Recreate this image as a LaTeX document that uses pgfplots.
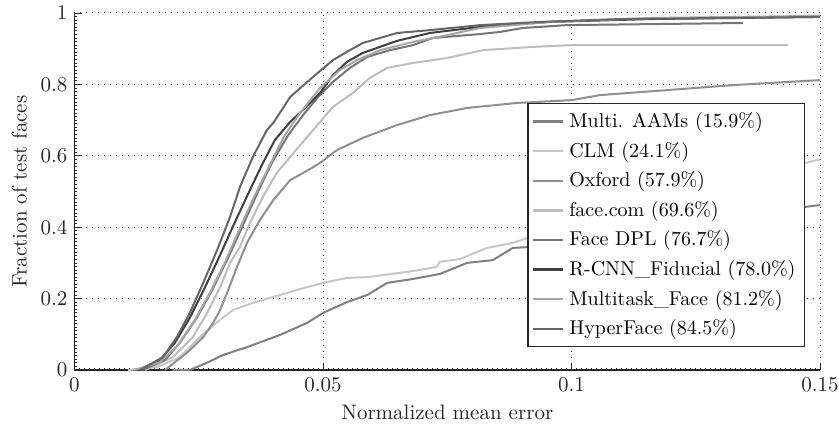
\documentclass[border=0pt]{standalone}
\usepackage{pgfplots}
\pgfplotsset{compat=1.18}
\definecolor{cAAM}{gray}{0.50}
\definecolor{cCLM}{gray}{0.78}
\definecolor{cOX}{gray}{0.56}
\definecolor{cFC}{gray}{0.74}
\definecolor{cDPL}{gray}{0.46}
\definecolor{cRCNN}{gray}{0.25}
\definecolor{cMT}{gray}{0.65}
\definecolor{cHF}{gray}{0.40}
\begin{document}
\begin{tikzpicture}
\begin{axis}[
  name=ax,
  scale only axis, width=372.75pt, height=178.5pt,
  xmin=0, xmax=0.15, ymin=0, ymax=1,
  axis x line*=bottom, axis y line*=left,
  axis line style={-, black!85, line width=0.6pt},
  xtick={0,0.05,0.1,0.15}, xticklabels={0,0.05,0.1,0.15},
  ytick={0,0.2,0.4,0.6,0.8,1}, yticklabels={0,0.2,0.4,0.6,0.8,1},
  minor x tick num=49, minor y tick num=19,
  tick align=inside, major tick length=3.5pt, minor tick length=1.2pt,
  tick style={black!85, line width=0.4pt},
  grid=major, major grid style={black!80, dash pattern=on 0.5pt off 2.5pt, line width=0.5pt},
  xlabel={Normalized mean error}, ylabel={Fraction of test faces},
  tick label style={font=\fontsize{10.5}{12}\selectfont, text=black!85},
  label style={font=\fontsize{10.5}{12}\selectfont, text=black!85},
  legend style={at={(0.98,0.748)}, anchor=north east, draw=black!85, line width=0.6pt,
    fill=white, font=\fontsize{10}{12}\selectfont, row sep=1.8pt, inner xsep=2pt, inner ysep=2.5pt,
    nodes={inner xsep=2.5pt}},
  legend cell align=left,
  legend image code/.code={\draw[#1, line width=1.2pt] (0pt,0pt) -- (15pt,0pt);},
  every axis plot/.append style={line width=1pt, line join=round},
]
% Multi. AAMs
\addplot[cAAM] coordinates {(0.0198,0) (0.0232,0) (0.0266,0.02) (0.0299,0.042) (0.0347,0.064) (0.0413,0.098) (0.0468,0.132) (0.050,0.160) (0.0548,0.19) (0.0589,0.21) (0.0629,0.244) (0.0681,0.255) (0.0735,0.269) (0.079,0.30) (0.0842,0.308) (0.0882,0.342) (0.0922,0.345) (0.10,0.365) (0.11,0.385) (0.12,0.405) (0.13,0.425) (0.14,0.445) (0.15,0.462)};
\addlegendentry{Multi. AAMs (15.9\%)}
% CLM
\addplot[cCLM] coordinates {(0.0108,0) (0.0166,0.008) (0.0212,0.036) (0.0252,0.092) (0.0287,0.134) (0.0319,0.168) (0.0359,0.188) (0.0413,0.21) (0.0454,0.227) (0.050,0.244) (0.0548,0.258) (0.0589,0.26) (0.0681,0.277) (0.0729,0.289) (0.0735,0.303) (0.0776,0.311) (0.083,0.342) (0.0882,0.356) (0.0922,0.375) (0.10,0.40) (0.11,0.44) (0.12,0.48) (0.13,0.52) (0.14,0.555) (0.15,0.59)};
\addlegendentry{CLM (24.1\%)}
% Oxford
\addplot[cOX] coordinates {(0.0182,0) (0.0226,0.048) (0.0259,0.092) (0.0279,0.132) (0.0293,0.168) (0.0307,0.216) (0.0327,0.289) (0.0347,0.356) (0.0373,0.42) (0.040,0.476) (0.0434,0.532) (0.0474,0.563) (0.0494,0.58) (0.0528,0.616) (0.058,0.65) (0.0649,0.686) (0.0715,0.714) (0.079,0.734) (0.089,0.748) (0.1001,0.756) (0.1057,0.77) (0.1192,0.784) (0.1325,0.798) (0.15,0.812)};
\addlegendentry{Oxford (57.9\%)}
% face.com
\addplot[cFC] coordinates {(0.0142,0) (0.0198,0.036) (0.0238,0.092) (0.0267,0.16) (0.0293,0.232) (0.0313,0.30) (0.0333,0.345) (0.0353,0.412) (0.0379,0.485) (0.0407,0.552) (0.0434,0.597) (0.048,0.672) (0.052,0.737) (0.056,0.776) (0.0594,0.818) (0.0629,0.846) (0.0681,0.86) (0.075,0.874) (0.0822,0.896) (0.0922,0.905) (0.1001,0.91) (0.1436,0.91)};
\addlegendentry{face.com (69.6\%)}
% Face DPL
\addplot[cDPL] coordinates {(0.0136,0) (0.0182,0.028) (0.0212,0.076) (0.0246,0.146) (0.0277,0.224) (0.0309,0.314) (0.0339,0.406) (0.0369,0.499) (0.0397,0.58) (0.043,0.658) (0.046,0.714) (0.049,0.765) (0.052,0.807) (0.0554,0.846) (0.0589,0.877) (0.0635,0.896) (0.0681,0.91) (0.0721,0.93) (0.0816,0.941) (0.0856,0.947) (0.0902,0.958) (0.099,0.966) (0.1345,0.972)};
\addlegendentry{Face DPL (76.7\%)}
% R-CNN_Fiducial
\addplot[cRCNN] coordinates {(0.0128,0) (0.0172,0.028) (0.0202,0.076) (0.0232,0.146) (0.0262,0.23) (0.0293,0.322) (0.0323,0.415) (0.0353,0.504) (0.0377,0.574) (0.0403,0.644) (0.0434,0.695) (0.0464,0.734) (0.0494,0.776) (0.052,0.826) (0.0548,0.863) (0.058,0.888) (0.0649,0.922) (0.0715,0.944) (0.0816,0.961) (0.0957,0.975) (0.1158,0.983) (0.15,0.989)};
\addlegendentry{R-CNN\_Fiducial (78.0\%)}
% Multitask_Face
\addplot[cMT] coordinates {(0.0121,0) (0.0172,0.022) (0.0208,0.07) (0.0242,0.14) (0.0273,0.218) (0.0303,0.302) (0.0333,0.398) (0.0363,0.49) (0.0393,0.574) (0.0423,0.658) (0.0454,0.72) (0.0494,0.79) (0.0534,0.84) (0.0568,0.868) (0.0615,0.896) (0.0681,0.919) (0.075,0.938) (0.0816,0.958) (0.0957,0.975) (0.1158,0.986) (0.15,0.992)};
\addlegendentry{Multitask\_Face (81.2\%)}
% HyperFace
\addplot[cHF] coordinates {(0.0132,0) (0.0178,0.036) (0.0206,0.092) (0.0232,0.16) (0.0259,0.244) (0.0287,0.336) (0.0313,0.429) (0.0333,0.513) (0.0359,0.597) (0.0387,0.672) (0.040,0.692) (0.0434,0.765) (0.048,0.821) (0.052,0.868) (0.0548,0.891) (0.058,0.916) (0.0649,0.944) (0.0715,0.952) (0.0816,0.966) (0.0937,0.975) (0.1097,0.983) (0.13,0.986) (0.15,0.989)};
\addlegendentry{HyperFace (84.5\%)}
\end{axis}
\pgfresetboundingbox
\path ([xshift=-37.25pt,yshift=-29pt]ax.south west) rectangle ([xshift=9.5pt,yshift=6.5pt]ax.north east);
\end{tikzpicture}
\end{document}
